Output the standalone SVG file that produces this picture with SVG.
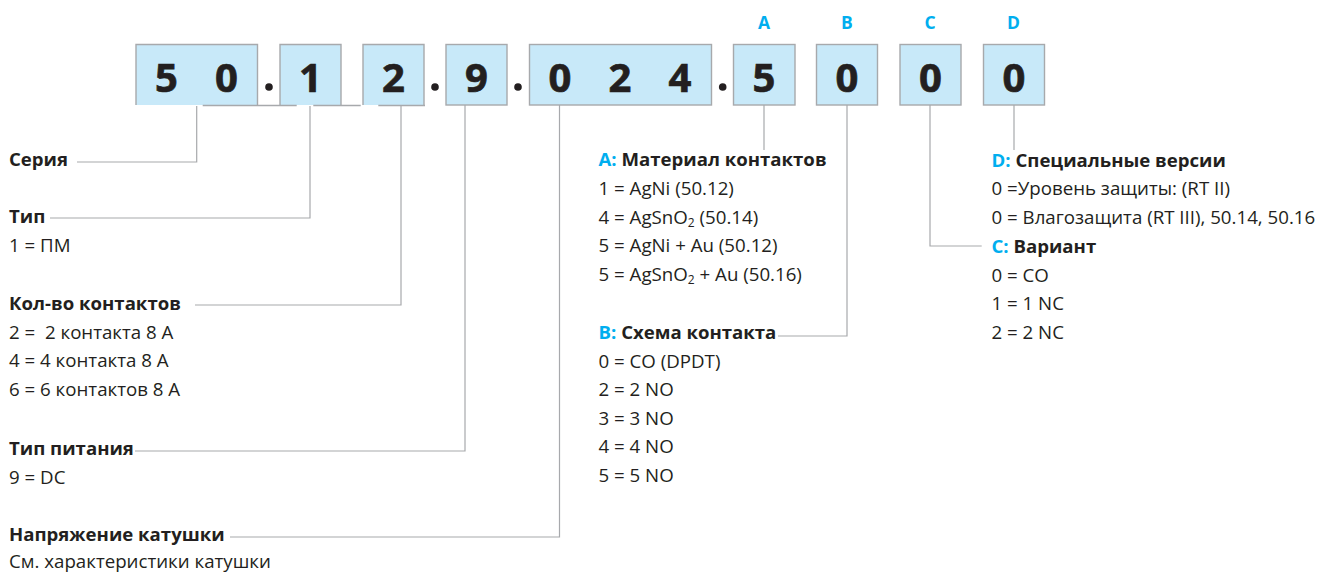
<svg xmlns="http://www.w3.org/2000/svg" width="1317" height="574" viewBox="0 0 1317 574">
<style>
text{font-family:"Open Sans","Liberation Sans",Arial,sans-serif;fill:#231f20}
.box{fill:#c8e9f9;stroke:#a7a9ac;stroke-width:1.4}
.boxfill{fill:#c8e9f9}
.edge{fill:none;stroke:#a7a9ac;stroke-width:1.4}
.dig{font-size:40px;font-weight:bold;text-anchor:middle;stroke:#231f20;stroke-width:0.7}
.dot{fill:#231f20}
.conn{fill:none;stroke:#a7a9ac;stroke-width:1.2}
.h{font-size:18.6px;font-weight:bold}
.b{font-size:18.7px}
.blue{fill:#00aeef}
.letter{font-size:17.5px;font-weight:bold;text-anchor:middle;fill:#00aeef}
.sub{font-size:12px}
</style>
<rect width="1317" height="574" fill="#ffffff"/>

<g id="code">
  <g id="box-series">
    <rect class="boxfill" x="136" y="44.5" width="121.5" height="60.5"/>
    <path class="edge" d="M136,105 V44.5 H257.5 V105"/>
    <text class="dig" x="166.5" y="91.5">5</text>
    <text class="dig" x="226.5" y="91.5">0</text>
  </g>
  <circle class="dot" cx="269" cy="87" r="3.8"/>
  <g id="box-type">
    <rect class="boxfill" x="280" y="44.5" width="61" height="60.5"/>
    <path class="edge" d="M280,105 V44.5 H341 V105"/>
    <text class="dig" x="310.5" y="91.5">1</text>
  </g>
  <g id="box-contacts">
    <rect class="boxfill" x="363" y="44.5" width="61" height="60.5"/>
    <path class="edge" d="M363,105 V44.5 H424 V105"/>
    <text class="dig" x="393.5" y="91.5">2</text>
  </g>
  <path class="edge" d="M202.7,105.5 H296.7 M313.3,105.5 H360.7 M378.3,105.5 H425"/>
  <circle class="dot" cx="435" cy="87" r="3.8"/>
  <g id="box-supply">
    <rect class="box" x="446" y="44.5" width="61" height="60.5"/>
    <text class="dig" x="476.5" y="91.5">9</text>
  </g>
  <circle class="dot" cx="518" cy="87" r="3.8"/>
  <g id="box-voltage">
    <rect class="box" x="529.5" y="44.5" width="182" height="60.5"/>
    <text class="dig" x="560" y="91.5">0</text>
    <text class="dig" x="620" y="91.5">2</text>
    <text class="dig" x="680" y="91.5">4</text>
  </g>
  <circle class="dot" cx="722.7" cy="87" r="3.8"/>
  <g id="box-A">
    <text class="letter" x="764" y="29">A</text>
    <rect class="box" x="733.5" y="44.5" width="61.5" height="60.5"/>
    <text class="dig" x="764" y="91.5">5</text>
  </g>
  <g id="box-B">
    <text class="letter" x="847" y="29">B</text>
    <rect class="box" x="816.5" y="44.5" width="61" height="60.5"/>
    <text class="dig" x="847" y="91.5">0</text>
  </g>
  <g id="box-C">
    <text class="letter" x="930" y="29">C</text>
    <rect class="box" x="900" y="44.5" width="61" height="60.5"/>
    <text class="dig" x="930.5" y="91.5">0</text>
  </g>
  <g id="box-D">
    <text class="letter" x="1013.5" y="29">D</text>
    <rect class="box" x="983.5" y="44.5" width="61" height="60.5"/>
    <text class="dig" x="1014" y="91.5">0</text>
  </g>
</g>

<g id="connectors">
  <path class="conn" d="M196.7,106 V162 H77"/>
  <path class="conn" d="M310,106 V218 H50"/>
  <path class="conn" d="M401,106 V305 H195"/>
  <path class="conn" d="M465,105 V451 H135"/>
  <path class="conn" d="M559.5,105 V537 H230"/>
  <path class="conn" d="M764,105 V150"/>
  <path class="conn" d="M847,105 V336 H778"/>
  <path class="conn" d="M930,105 V246 H981.7"/>
  <path class="conn" d="M1014,105 V150"/>
</g>

<g id="label-series">
  <text class="h" x="9" y="166">Серия</text>
</g>
<g id="label-type">
  <text class="h" x="9" y="223">Тип</text>
  <text class="b" x="9" y="251.5">1 = ПМ</text>
</g>
<g id="label-contacts">
  <text class="h" x="9" y="310">Кол-во контактов</text>
  <text class="b" x="9" y="338.5">2 =&#160; 2 контакта 8 A</text>
  <text class="b" x="9" y="367">4 = 4 контакта 8 A</text>
  <text class="b" x="9" y="396">6 = 6 контактов 8 A</text>
</g>
<g id="label-supply">
  <text class="h" x="9" y="455">Тип питания</text>
  <text class="b" x="9" y="483.5">9 = DC</text>
</g>
<g id="label-voltage">
  <text class="h" x="9" y="540.5">Напряжение катушки</text>
  <text class="b" x="9" y="568">См. характеристики катушки</text>
</g>

<g id="label-A">
  <text class="h" x="598.5" y="166"><tspan class="blue">A:</tspan> Материал контактов</text>
  <text class="b" x="598.5" y="195">1 = AgNi (50.12)</text>
  <text class="b" x="598.5" y="223.5">4 = AgSnO<tspan class="sub" dy="3">2</tspan><tspan dy="-3"> (50.14)</tspan></text>
  <text class="b" x="598.5" y="252">5 = AgNi + Au (50.12)</text>
  <text class="b" x="598.5" y="280.5">5 = AgSnO<tspan class="sub" dy="3">2</tspan><tspan dy="-3"> + Au (50.16)</tspan></text>
</g>
<g id="label-B">
  <text class="h" x="598.5" y="338.5"><tspan class="blue">B:</tspan> Схема контакта</text>
  <text class="b" x="598.5" y="367.5">0 = CO (DPDT)</text>
  <text class="b" x="598.5" y="396">2 = 2 NO</text>
  <text class="b" x="598.5" y="424.5">3 = 3 NO</text>
  <text class="b" x="598.5" y="453">4 = 4 NO</text>
  <text class="b" x="598.5" y="481.5">5 = 5 NO</text>
</g>
<g id="label-D">
  <text class="h" x="991.5" y="166.5"><tspan class="blue">D:</tspan> Специальные версии</text>
  <text class="b" x="991.5" y="195">0 =Уровень защиты: (RT II)</text>
  <text class="b" x="991.5" y="223.5">0 = Влагозащита (RT III), 50.14, 50.16</text>
</g>
<g id="label-C">
  <text class="h" x="991.5" y="252.5"><tspan class="blue">C:</tspan> Вариант</text>
  <text class="b" x="991.5" y="281.5">0 = CO</text>
  <text class="b" x="991.5" y="310">1 = 1 NC</text>
  <text class="b" x="991.5" y="338.5">2 = 2 NC</text>
</g>
</svg>
